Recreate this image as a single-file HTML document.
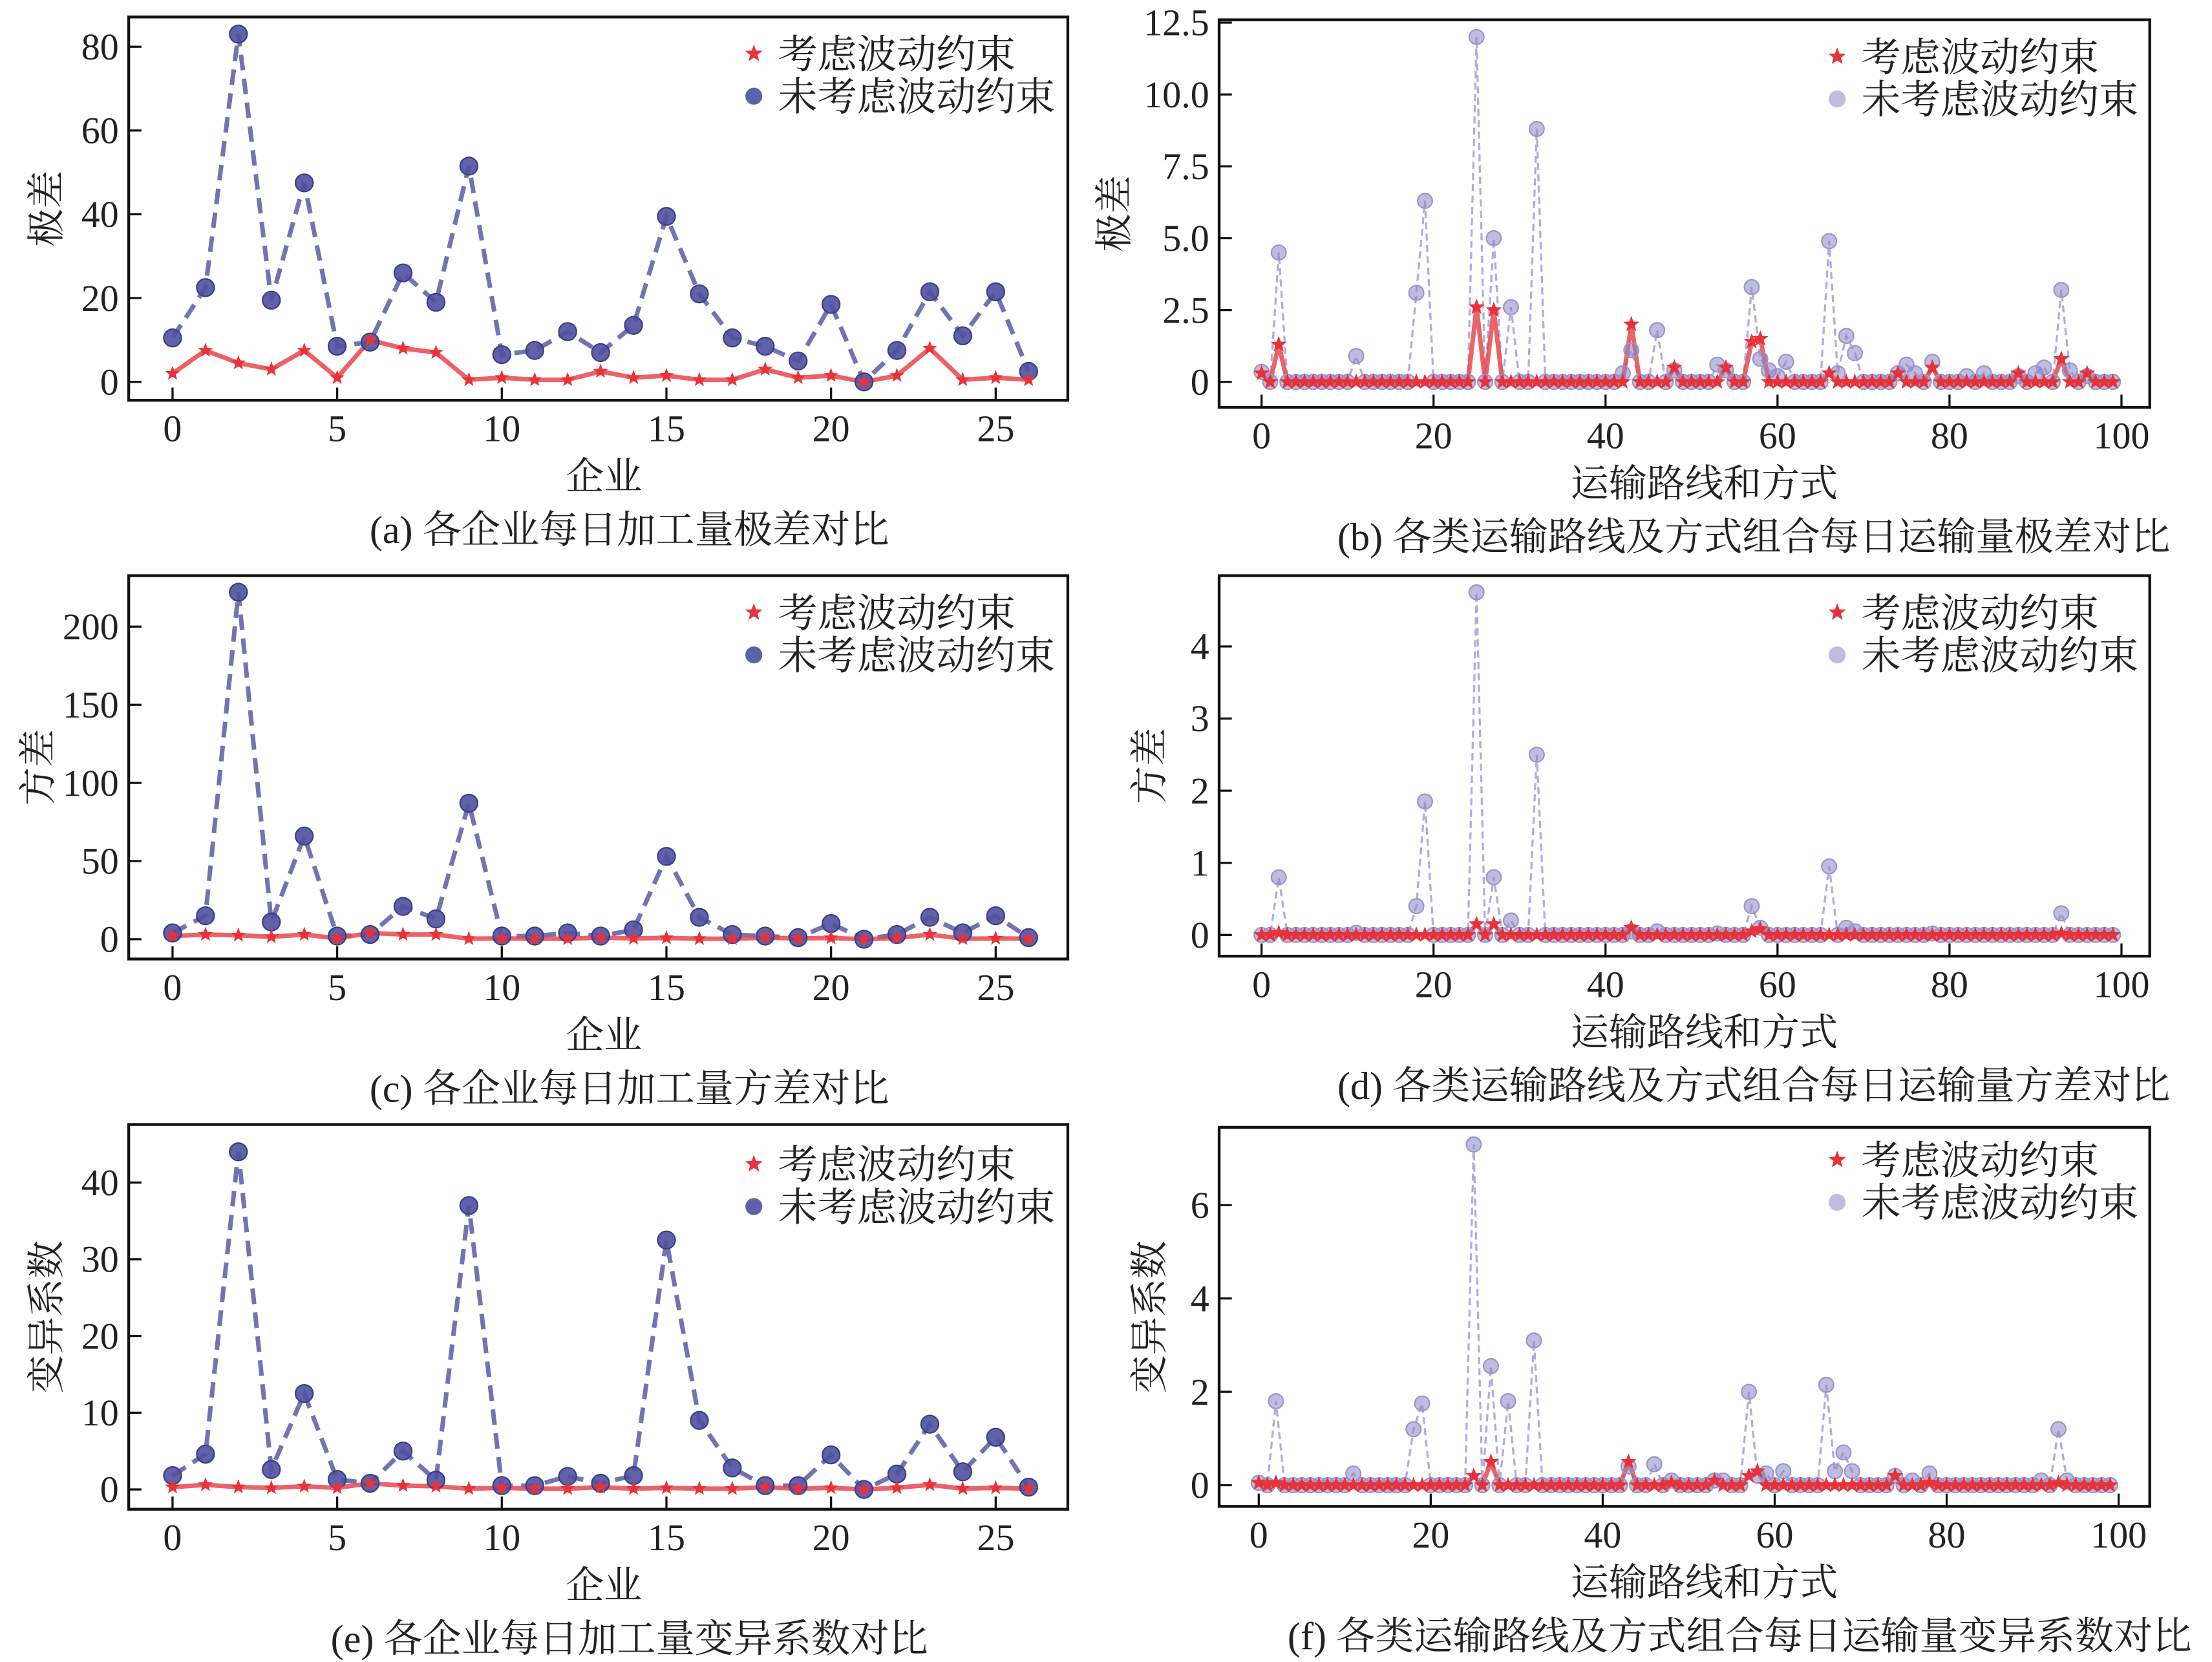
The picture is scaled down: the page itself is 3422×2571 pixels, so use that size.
<!DOCTYPE html>
<html><head><meta charset="utf-8">
<style>
html,body{margin:0;padding:0;background:#fff;}
svg{display:block;}
text{font-family:"Liberation Serif","Noto Serif CJK SC",serif;fill:#222;}
</style></head>
<body>
<svg id="fig" xmlns="http://www.w3.org/2000/svg" width="3422" height="2571" viewBox="0 0 1564 1175" preserveAspectRatio="none"></svg>
<script>
// ---------- data ----------
const firmCats = [0,1,2,3,4,5,6,7,8,9,10,11,12,13,14,15,16,17,18,19,20,21,22,23,24,25,26];
const rangeFirmWith = [2,7.5,4.5,3,7.5,1,10,8,7,0.5,1,0.5,0.5,2.5,1,1.5,0.5,0.5,3,1,1.5,0,1.5,8,0.5,1,0.5];
const rangeFirmWithout = [10.5,22.5,83,19.5,47.5,8.5,9.5,26,19,51.5,6.5,7.5,12,7,13.5,39.5,21,10.5,8.5,5,18.5,0,7.5,21.5,11,21.5,2.5];
const varFirmWith = [2,3,2.5,1.5,3,0.5,4,3,3,0.3,0.5,0.3,0.3,1,0.5,0.8,0.3,0.3,1,0.5,0.8,0,0.8,3,0.3,0.5,0.3];
const varFirmWithout = [4,15,222,11,66,2,3,21,13,87,2,2,4,2,6,53,14,3,2,1,10,0,3,14,4,15,1];
const cvFirmWith = [0.3,0.6,0.3,0.2,0.4,0.2,0.8,0.5,0.4,0.1,0.2,0.1,0.1,0.3,0.1,0.2,0.1,0.1,0.3,0.1,0.2,0,0.2,0.6,0.1,0.2,0.1];
const cvFirmWithout = [1.8,4.6,44,2.6,12.5,1.3,0.8,5,1.2,37,0.5,0.5,1.7,0.8,1.8,32.5,9,2.8,0.5,0.5,4.5,0,2,8.5,2.3,6.8,0.3];

const routeCats = [0,1,2,3,4,5,6,7,8,9,10,11,12,13,14,15,16,17,18,19,20,21,22,23,24,25,26,27,28,29,30,31,32,33,34,35,36,37,38,39,40,41,42,43,44,45,46,47,48,49,50,51,52,53,54,55,56,57,58,59,60,61,62,63,64,65,66,67,68,69,70,71,72,73,74,75,76,77,78,79,80,81,82,83,84,85,86,87,88,89,90,91,92,93,94,95,96,97,98,99];
const rangeRouteWith = [
0.3,0,1.3,0,0,0,0,0,0,0,
0,0,0,0,0,0,0,0,0,0,
0,0,0,0,0,2.6,0,2.5,0,0,
0,0,0,0,0,0,0,0,0,0,
0,0,0,2.0,0,0,0,0,0.5,0,
0,0,0,0,0.5,0,0,1.4,1.5,0,
0,0,0,0,0,0,0.3,0,0,0,
0,0,0,0,0.3,0,0,0,0.5,0,
0,0,0,0,0,0,0,0,0.3,0,
0,0,0,0.8,0,0,0.3,0,0,0];
const rangeRouteWithout = [
0.35,0,4.5,0,0,0,0,0,0,0,
0,0.9,0,0,0,0,0,0,3.1,6.3,
0,0,0,0,0,12,0,5,0,2.6,
0,0,8.8,0,0,0,0,0,0,0,
0,0,0.3,1.1,0,0,1.8,0,0.4,0,
0,0,0,0.6,0.4,0,0,3.3,0.8,0.4,
0.2,0.7,0,0,0,0,4.9,0.3,1.6,1.0,
0,0,0,0,0.3,0.6,0.3,0,0.7,0,
0,0,0.2,0,0.3,0,0,0,0.2,0,
0.3,0.5,0,3.2,0.4,0,0.2,0,0,0];
const varRouteWith = [
0,0,0.03,0,0,0,0,0,0,0,
0,0,0,0,0,0,0,0,0,0,
0,0,0,0,0,0.15,0,0.15,0,0,
0,0,0,0,0,0,0,0,0,0,
0,0,0,0.1,0,0,0,0,0,0,
0,0,0,0,0,0,0,0.05,0.08,0,
0,0,0,0,0,0,0,0,0,0,
0,0,0,0,0,0,0,0,0,0,
0,0,0,0,0,0,0,0,0,0,
0,0,0,0.02,0,0,0,0,0,0];
const varRouteWithout = [
0,0,0.8,0,0,0,0,0,0,0,
0,0.03,0,0,0,0,0,0,0.4,1.85,
0,0,0,0,0,4.75,0,0.8,0,0.2,
0,0,2.5,0,0,0,0,0,0,0,
0,0,0,0.05,0,0,0.05,0,0,0,
0,0,0,0.02,0,0,0,0.4,0.1,0,
0,0,0,0,0,0,0.95,0,0.1,0.05,
0,0,0,0,0,0,0,0,0.02,0,
0,0,0,0,0,0,0,0,0,0,
0,0,0,0.3,0,0,0,0,0,0];
const cvRouteWith = [
0.05,0,0.05,0,0,0,0,0,0,0,
0,0,0,0,0,0,0,0,0,0,
0,0,0,0,0,0.2,0,0.5,0,0,
0,0,0,0,0,0,0,0,0,0,
0,0,0,0.5,0,0,0,0,0.05,0,
0,0,0,0.1,0,0,0,0.2,0.3,0,
0,0,0,0,0,0,0,0,0,0,
0,0,0,0,0.2,0,0,0,0.05,0,
0,0,0,0,0,0,0,0,0,0,
0,0,0,0.05,0,0,0,0,0,0];
const cvRouteWithout = [
0.05,0,1.8,0,0,0,0,0,0,0,
0,0.25,0,0,0,0,0,0,1.2,1.75,
0,0,0,0,0,7.3,0,2.55,0,1.8,
0,0,3.1,0,0,0,0,0,0,0,
0,0,0,0.4,0,0,0.45,0,0.1,0,
0,0,0,0.1,0.1,0,0,2.0,0.2,0.25,
0,0.3,0,0,0,0,2.15,0.3,0.7,0.3,
0,0,0,0,0.2,0,0.1,0,0.25,0,
0,0,0,0,0,0,0,0,0,0,
0,0.1,0,1.2,0.1,0,0,0,0,0];

const ticksFirmX = [0,5,10,15,20,25];
const ticksRouteX = [0,20,40,60,80,100];
const ticksRangeFirmY = [0,20,40,60,80];
const ticksVarFirmY = [0,50,100,150,200];
const ticksCvFirmY = [0,10,20,30,40];
const ticksRangeRouteY = ["0","2.5","5.0","7.5","10.0","12.5"];
const ticksVarRouteY = [0,1,2,3,4];
const ticksCvRouteY = [0,2,4,6];
const legendLabels = ["考虑波动约束","未考虑波动约束"];

// ---------- drawing ----------
const NS="http://www.w3.org/2000/svg";
const svg=document.getElementById('fig');
function mk(tag,attrs,parent){const e=document.createElementNS(NS,tag);for(const k in attrs)e.setAttribute(k,attrs[k]);(parent||svg).appendChild(e);return e;}
function starPath(cx,cy,R){let d="";const r=R*0.42;for(let i=0;i<10;i++){const a=-Math.PI/2+i*Math.PI/5;const rr=i%2?r:R;d+=(i?"L":"M")+(cx+rr*Math.cos(a)).toFixed(2)+","+(cy+rr*Math.sin(a)).toFixed(2);}return d+"Z";}

function panel(cfg){
  const g=mk('g',{});
  
  
  const xs=v=>cfg.x0px+(v-cfg.xmin)*cfg.xk;
  const ys=v=>cfg.y0px-v*cfg.yk;
  const cid='clip-'+cfg.name;
  const cp=mk('clipPath',{id:cid},g);mk('rect',{x:cfg.L,y:cfg.T,width:cfg.R-cfg.L,height:cfg.B-cfg.T},cp);
  const plot=mk('g',{'clip-path':'url(#'+cid+')'},g);
  
  
  let d="";cfg.cats.forEach((c,i)=>{d+=(i?"L":"M")+xs(c).toFixed(2)+","+ys(cfg.blue[i]).toFixed(2);});
  const bl=mk('path',{d:d,fill:'none',stroke:cfg.thin?'#a9a3d6':'#6b6bb0','stroke-width':cfg.thin?1.5:3.2,'stroke-dasharray':cfg.thin?'5,3':'11,6','stroke-opacity':cfg.thin?0.9:0.95},plot);
  
  
  let d2="";cfg.cats.forEach((c,i)=>{d2+=(i?"L":"M")+xs(c).toFixed(2)+","+ys(cfg.red[i]).toFixed(2);});
  const rl=mk('path',{d:d2,fill:'none',stroke:'#e8474c','stroke-width':3.2,'stroke-opacity':0.85,'stroke-linejoin':'round'},plot);
  
  
  cfg.cats.forEach((c,i)=>{
    const m=mk('circle',{cx:xs(c),cy:ys(cfg.blue[i]),r:cfg.thin?5.2:6.2,fill:cfg.thin?'#8a86c4':'#5050a0','fill-opacity':cfg.thin?0.55:0.9,stroke:cfg.thin?'#9995cc':'#3c3c88','stroke-width':1},plot);
    
    
  });
  cfg.cats.forEach((c,i)=>{
    const s=mk('path',{d:starPath(xs(c),ys(cfg.red[i]),cfg.thin?6:5.5),fill:'#e8323a'},plot);
    
    
  });
  const fr=mk('rect',{x:cfg.L,y:cfg.T,width:cfg.R-cfg.L,height:cfg.B-cfg.T,fill:'none',stroke:'#111','stroke-width':2},g);
  
  
  cfg.xt.forEach(t=>{
    const x=xs(t);
    mk('line',{x1:x,y1:cfg.B,x2:x,y2:cfg.B-9,stroke:'#111','stroke-width':1.5},g);
    const tx=mk('text',{x:x,y:cfg.B+29,'font-size':26.5,'text-anchor':'middle'},g);tx.textContent=t;
    
    
  });
  cfg.yt.forEach(t=>{
    const y=ys(parseFloat(t));
    mk('line',{x1:cfg.L,y1:y,x2:cfg.L+9,y2:y,stroke:'#111','stroke-width':1.5},g);
    const tx=mk('text',{x:cfg.L-7,y:y+9,'font-size':26.5,'text-anchor':'end'},g);tx.textContent=t;
    
    
  });
  const xl=mk('text',{x:(cfg.xlX),y:cfg.B+63,'font-size':27,'text-anchor':'middle'},g);xl.textContent=cfg.xlabel;
  
  
  const yl=mk('text',{x:0,y:0,'font-size':27,'text-anchor':'middle',transform:'translate('+cfg.ylX+','+((cfg.T+cfg.B)/2)+') rotate(-90)'},g);yl.textContent=cfg.ylabel;
  
  
  const cap=mk('text',{x:cfg.capX,y:cfg.B+101,'font-size':27.5,'text-anchor':'middle'},g);cap.textContent=cfg.caption;
  
  
  const lg=mk('g',{},g);
  
  
  mk('path',{d:starPath(cfg.lgX,cfg.lgY-10,6.5),fill:'#e8323a'},lg);
  const t1=mk('text',{x:cfg.lgX+17,y:cfg.lgY,'font-size':28},lg);t1.textContent=legendLabels[0];
  
  
  mk('circle',{cx:cfg.lgX,cy:cfg.lgY+20,r:6,fill:cfg.thin?'#8a86c4':'#5050a0','fill-opacity':cfg.thin?0.55:0.9},lg);
  const t2=mk('text',{x:cfg.lgX+17,y:cfg.lgY+30,'font-size':28},lg);t2.textContent=legendLabels[1];
  
  
}

const LFx={L:91,R:755,x0px:122,xmin:0,xk:23.28,xlX:427,capX:445,ylX:42,lgX:533,cats:firmCats,xt:ticksFirmX,xlabel:'企业'};
const RTx={L:862,R:1520,x0px:892,xmin:0,xk:6.08,xlX:1205,capX:1240,ylX:797,lgX:1299,cats:routeCats,xt:ticksRouteX,xlabel:'运输路线和方式',thin:true};

panel(Object.assign({},LFx,{name:'panel-a',T:12,B:283,y0px:270,yk:2.9625,yt:ticksRangeFirmY,red:rangeFirmWith,blue:rangeFirmWithout,ylabel:'极差',caption:'(a) 各企业每日加工量极差对比',lgY:48}));
panel(Object.assign({},RTx,{name:'panel-b',T:14,B:288,y0px:270,yk:20.32,yt:ticksRangeRouteY,red:rangeRouteWith,blue:rangeRouteWithout,ylabel:'极差',caption:'(b) 各类运输路线及方式组合每日运输量极差对比',lgY:50}));
panel(Object.assign({},LFx,{name:'panel-c',T:407,B:678,y0px:664,yk:1.105,yt:ticksVarFirmY,red:varFirmWith,blue:varFirmWithout,ylabel:'方差',caption:'(c) 各企业每日加工量方差对比',lgY:443,ylX:36}));
panel(Object.assign({},RTx,{name:'panel-d',T:407,B:676,y0px:661,yk:51,yt:ticksVarRouteY,red:varRouteWith,blue:varRouteWithout,ylabel:'方差',caption:'(d) 各类运输路线及方式组合每日运输量方差对比',lgY:443,ylX:822}));
panel(Object.assign({},LFx,{name:'panel-e',T:795,B:1067,y0px:1053,yk:5.425,yt:ticksCvFirmY,red:cvFirmWith,blue:cvFirmWithout,ylabel:'变异系数',caption:'(e) 各企业每日加工量变异系数对比',lgY:833,ylX:42}));
panel(Object.assign({},RTx,{name:'panel-f',T:797,B:1065,y0px:1050,yk:33,yt:ticksCvRouteY,red:cvRouteWith,blue:cvRouteWithout,ylabel:'变异系数',caption:'(f) 各类运输路线及方式组合每日运输量变异系数对比',lgY:830,ylX:822,x0px:890,capX:1230}));
</script>
</body></html>
